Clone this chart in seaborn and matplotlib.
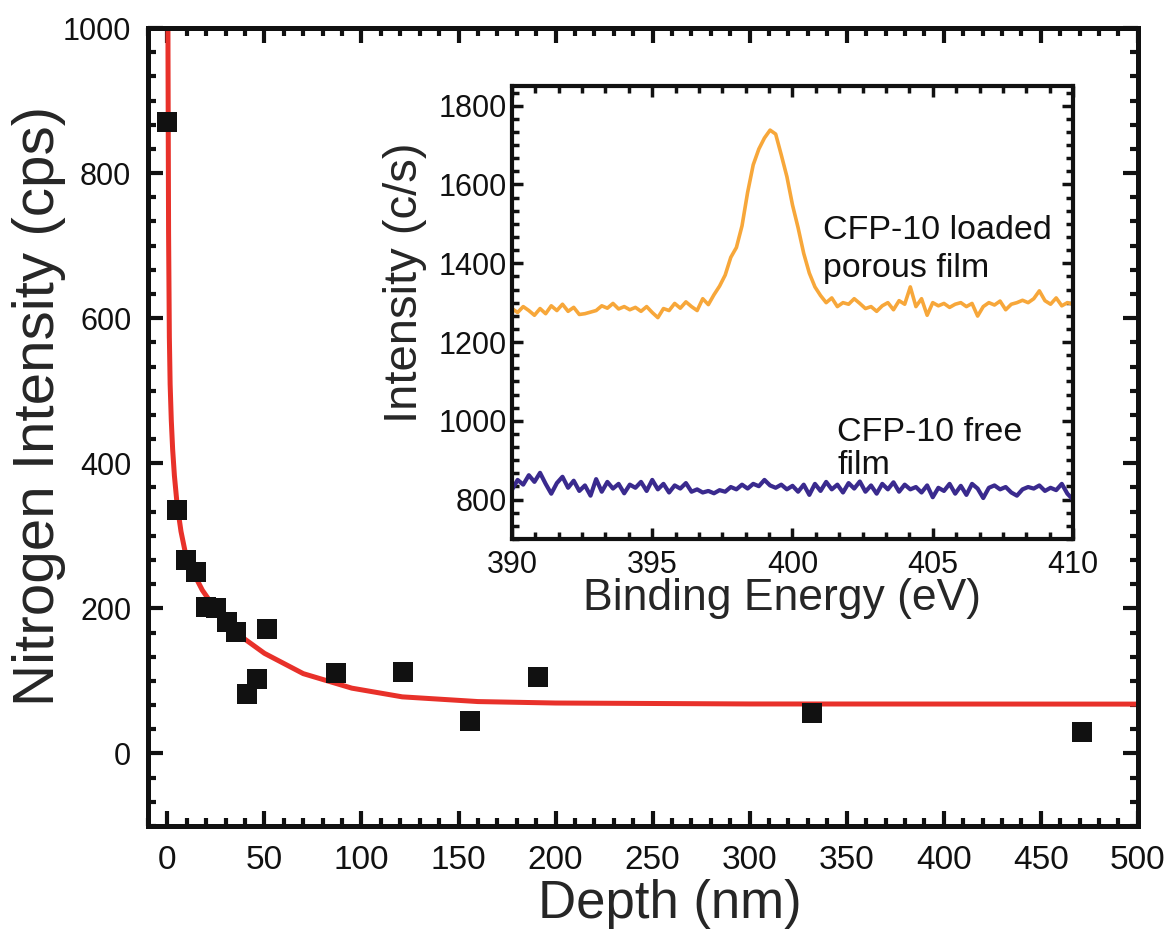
import numpy as np
import matplotlib
matplotlib.use('Agg')
import matplotlib.pyplot as plt
from matplotlib.ticker import MultipleLocator
import seaborn as sns

# depth profile points (main plot)
depth_nm = [0, 4.7, 9.6, 14.7, 19.9, 25, 30.7, 35.5, 41, 46.3, 51.4, 86.8, 121.4, 156, 191, 332, 471]
nitrogen_cps = [870, 335, 266, 250, 202, 200, 181, 167, 82, 103, 172, 111, 112, 45, 106, 56, 29]

# fitted decay curve
fit_depth = [0, 0.3, 0.6, 1.0, 1.4, 2.0, 2.7, 3.6, 5, 7, 9.6, 13, 18, 25, 35, 50, 70, 95, 121, 160, 200, 300, 500]
fit_cps = [1500, 965, 718, 574, 509, 459, 419, 383, 343, 306, 272, 251, 225, 198, 167, 138, 110, 90, 78,
           71.5, 69.5, 68.2, 68]

# inset XPS spectra, 390-410 eV
loaded_cs = [1285, 1275, 1290, 1280, 1268, 1285, 1272, 1292, 1280, 1296,
             1278, 1288, 1270, 1272, 1276, 1280, 1292, 1286, 1298, 1284,
             1290, 1282, 1288, 1278, 1290, 1275, 1262, 1285, 1280, 1298,
             1286, 1302, 1290, 1280, 1310, 1295, 1320, 1342, 1370, 1415,
             1440, 1495, 1580, 1650, 1690, 1718, 1738, 1728, 1675, 1620,
             1548, 1490, 1425, 1375, 1340, 1318, 1300, 1312, 1290, 1300,
             1296, 1310, 1298, 1285, 1290, 1278, 1292, 1300, 1282, 1305,
             1296, 1340, 1290, 1310, 1268, 1300, 1292, 1298, 1288, 1296,
             1300, 1290, 1298, 1266, 1290, 1300, 1294, 1304, 1282, 1296,
             1300, 1306, 1300, 1310, 1330, 1305, 1296, 1312, 1292, 1300,
             1296]
free_cs = [825, 850, 838, 862, 845, 868, 840, 815, 842, 858,
           830, 848, 822, 836, 810, 852, 820, 845, 828, 840,
           816, 838, 830, 845, 822, 850, 826, 840, 818, 836,
           828, 842, 820, 826, 818, 822, 816, 824, 820, 832,
           826, 838, 828, 840, 834, 850, 836, 830, 838, 826,
           835, 820, 838, 812, 840, 822, 845, 826, 838, 818,
           842, 828, 846, 820, 836, 815, 840, 826, 844, 820,
           838, 826, 832, 818, 836, 806, 830, 822, 840, 815,
           835, 812, 840, 828, 804, 830, 836, 826, 832, 818,
           810, 826, 832, 828, 836, 822, 830, 824, 840, 815,
           800]
loaded_ev = np.linspace(390, 410, len(loaded_cs))
free_ev = np.linspace(390, 410, len(free_cs))

sns.set_theme(style='ticks')
plt.rcParams['font.family'] = ['Liberation Sans', 'DejaVu Sans']

fig = plt.figure(figsize=(11.7, 9.4), dpi=100)
ax = fig.add_axes([0.1265, 0.1213, 0.846, 0.8489])

sns.lineplot(x=fit_depth, y=fit_cps, ax=ax, color='#e8312a', linewidth=3.6, sort=False, estimator=None, zorder=2)
sns.scatterplot(x=depth_nm, y=nitrogen_cps, ax=ax, marker='s', s=200, color='#111111', linewidth=0, zorder=3)

ax.set_xlim(-10, 500)
ax.set_ylim(-100, 1000)
ax.xaxis.set_major_locator(MultipleLocator(50))
ax.xaxis.set_minor_locator(MultipleLocator(10))
ax.yaxis.set_major_locator(MultipleLocator(200))
ax.yaxis.set_minor_locator(MultipleLocator(200 / 6))
ax.tick_params(which='both', direction='in', top=True, right=True, width=3, colors='#111111')
ax.tick_params(which='major', length=11)
ax.tick_params(which='minor', length=6)
ax.tick_params(axis='x', which='major', pad=14, labelsize=24)
ax.tick_params(axis='y', which='major', pad=12, labelsize=22)
for sp in ax.spines.values():
    sp.set_linewidth(3.6)
    sp.set_color('#111111')
ax.set_xlabel('Depth (nm)', fontsize=38)
ax.set_ylabel('Nitrogen Intensity (cps)', fontsize=42)
ax.xaxis.set_label_coords(0.527, -0.066)
ax.yaxis.set_label_coords(-0.083, 0.527)

# inset
ins = fig.add_axes([0.4376, 0.4266, 0.4795, 0.4819])
sns.lineplot(x=loaded_ev, y=loaded_cs, ax=ins, color='#f7a73a', linewidth=2.6, sort=False, estimator=None)
sns.lineplot(x=free_ev, y=free_cs, ax=ins, color='#3a2a8e', linewidth=3, sort=False, estimator=None)
ins.set_xlim(390, 410)
ins.set_ylim(700, 1850)
ins.xaxis.set_major_locator(MultipleLocator(5))
ins.xaxis.set_minor_locator(MultipleLocator(5 / 6))
ins.yaxis.set_major_locator(MultipleLocator(200))
ins.yaxis.set_minor_locator(MultipleLocator(200 / 6))
ins.tick_params(which='both', direction='in', top=True, right=True, width=2.5, colors='#111111', labelsize=22)
ins.tick_params(which='major', length=8)
ins.tick_params(which='minor', length=5)
ins.tick_params(axis='x', pad=8)
for sp in ins.spines.values():
    sp.set_linewidth(3)
    sp.set_color('#111111')
ins.set_xlabel('Binding Energy (eV)', fontsize=32)
ins.set_ylabel('Intensity (c/s)', fontsize=34)
ins.xaxis.set_label_coords(0.481, -0.086)
ins.yaxis.set_label_coords(-0.152, 0.565)
ins.text(401.1, 1365, 'CFP-10 loaded\nporous film', fontsize=24.5, color='#111111',
         ha='left', va='baseline', linespacing=1.3)
ins.text(401.6, 865, 'CFP-10 free\nfilm', fontsize=24.5, color='#111111',
         ha='left', va='baseline', linespacing=1.1)

fig.savefig('out.png', dpi=100)
